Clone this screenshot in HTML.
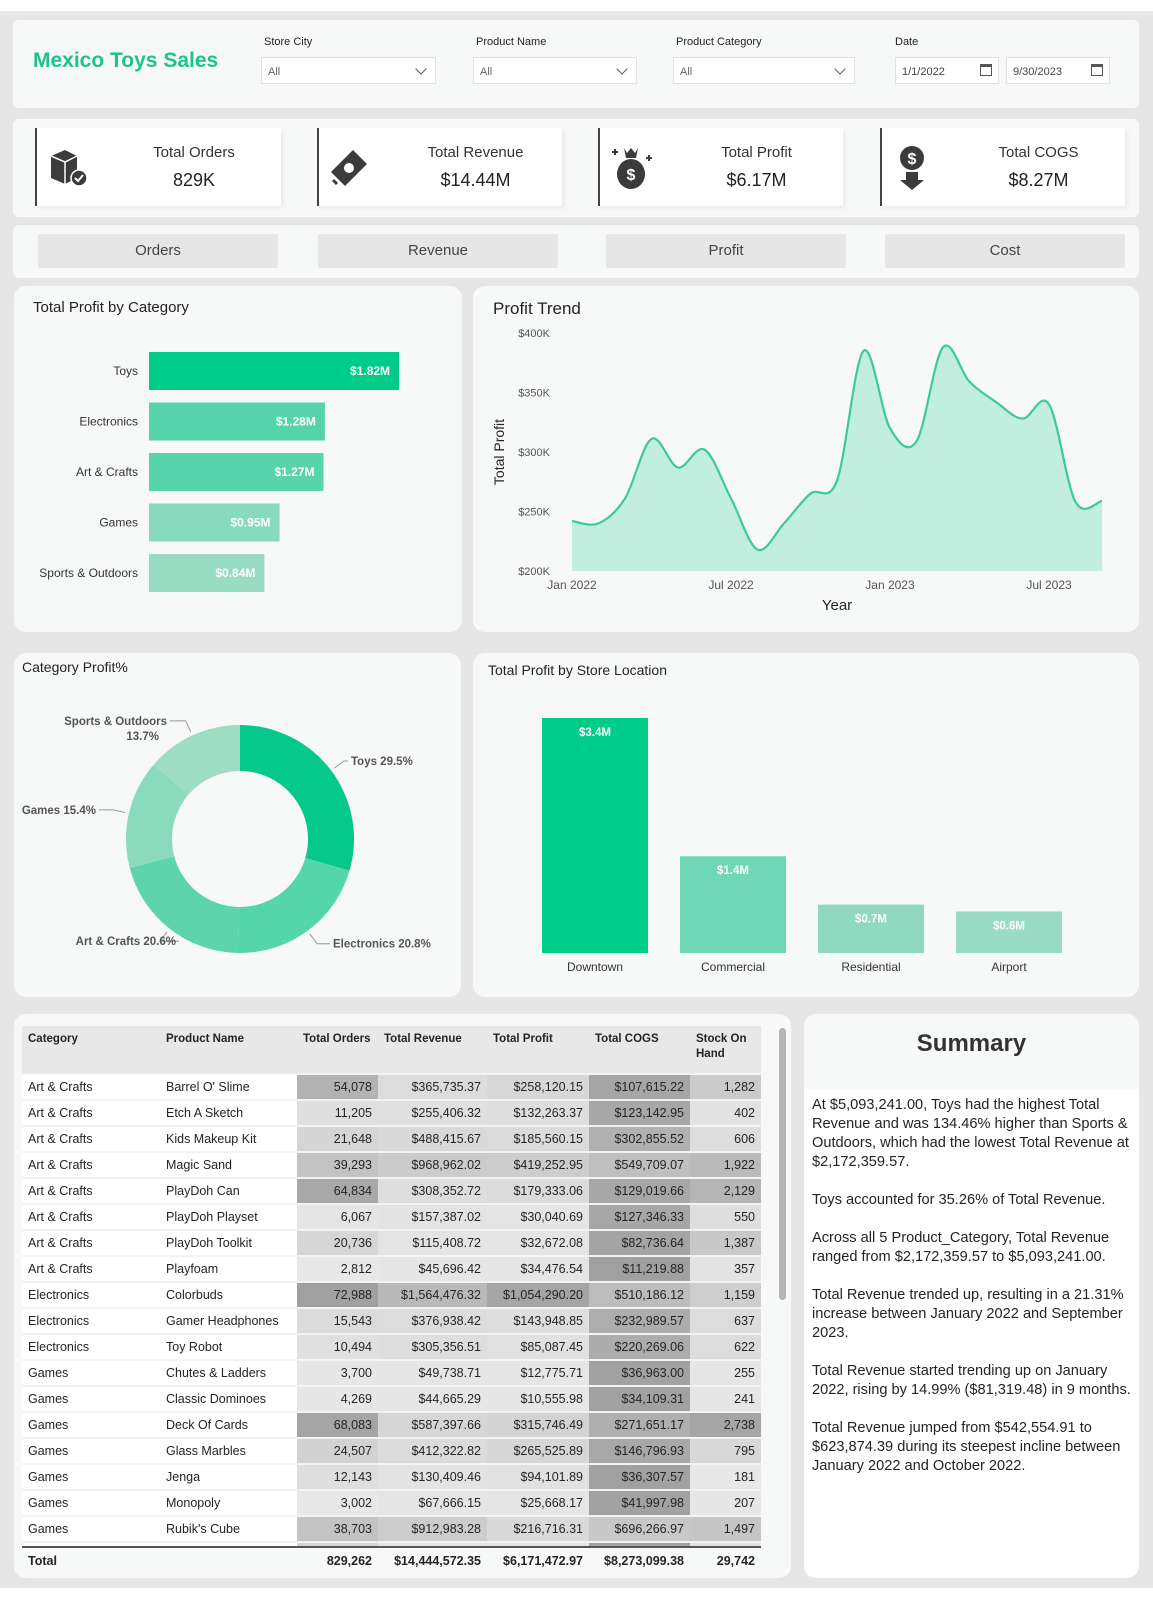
<!DOCTYPE html>
<html><head><meta charset="utf-8">
<style>
*{box-sizing:border-box;margin:0;padding:0}
body{width:1153px;height:1600px;background:#fff;font-family:"Liberation Sans",sans-serif;color:#252423;position:relative;overflow:hidden}
.abs{position:absolute}
.panel{position:absolute;background:#f7f8f8;border-radius:6px}
.rp{border-radius:12px}
.lbl{position:absolute;font-size:11px;color:#252423}
.dd{position:absolute;background:#fff;border:1px solid #e1e1e1;height:27px;font-size:11px;color:#666;padding:8px 6px}
.dd .chev{position:absolute;right:10px;top:7px;width:8px;height:8px;border-right:1.3px solid #555;border-bottom:1.3px solid #555;transform:rotate(45deg)}
.card{position:absolute;background:#fff;border-left:2px solid #444;top:128px;height:78px;box-shadow:2px 2px 4px rgba(0,0,0,.06)}
.card .t{position:absolute;left:70px;right:0;top:16px;text-align:center;font-size:15px;color:#333}
.card .v{position:absolute;left:70px;right:0;top:42px;text-align:center;font-size:18px;color:#222}
.card svg{position:absolute;left:10px;top:16px}
.btn{position:absolute;top:234px;height:34px;background:#e6e6e6;border-radius:2px;font-size:15px;color:#444;text-align:center;line-height:34px}
table{border-collapse:collapse;position:absolute;left:22px;top:1026px;font-size:12.5px;table-layout:fixed}
td,th{height:26px;padding:0 6px;white-space:nowrap;border-bottom:2px solid #f3f3f3}
th{background:#e8e8e8;font-size:11.5px;font-weight:bold;text-align:left;vertical-align:top;padding-top:6px;height:48px;line-height:15px;white-space:normal}
td.n{text-align:right}
td.w{background:#fff}
</style></head><body>
<div class="abs" style="left:0;top:11px;width:1153px;height:1577px;background:#e6e6e6"></div>

<!-- header -->
<div class="panel" style="left:13px;top:20px;width:1126px;height:88px">
  <div class="abs" style="left:20px;top:29px;font-size:21px;font-weight:bold;color:#1dc48a">Mexico Toys Sales</div>
</div>
<div class="lbl" style="left:264px;top:36px">Store City</div>
<div class="dd" style="left:261px;top:57px;width:175px">All<span class="chev"></span></div>
<div class="lbl" style="left:476px;top:36px">Product Name</div>
<div class="dd" style="left:473px;top:57px;width:164px">All<span class="chev"></span></div>
<div class="lbl" style="left:676px;top:36px">Product Category</div>
<div class="dd" style="left:673px;top:57px;width:182px">All<span class="chev"></span></div>
<div class="lbl" style="left:895px;top:36px">Date</div>
<div class="dd" style="left:895px;top:57px;width:104px;color:#444">1/1/2022<span class="abs" style="right:6px;top:6px;width:12px;height:12px;border:1.5px solid #555;border-top-width:3px"></span></div>
<div class="dd" style="left:1006px;top:57px;width:104px;color:#444">9/30/2023<span class="abs" style="right:6px;top:6px;width:12px;height:12px;border:1.5px solid #555;border-top-width:3px"></span></div>

<!-- KPIs -->
<div class="panel" style="left:13px;top:119px;width:1126px;height:98px"></div>
<div class="card" style="left:35px;width:246px">
  <svg width="44" height="44" viewBox="0 0 44 44"><path d="M4 12 L18 6 L30 12 L30 34 L18 40 L4 34Z" fill="#3b3b3b"/><path d="M4 12 L18 18 L30 12" stroke="#fff" stroke-width="1.5" fill="none"/><path d="M18 18 V40" stroke="#fff" stroke-width="1.5"/><circle cx="32" cy="34" r="8" fill="#3b3b3b" stroke="#fff" stroke-width="1.5"/><path d="M28 34 l3 3 l5 -6" stroke="#fff" stroke-width="2" fill="none"/></svg>
  <div class="t">Total Orders</div>
  <div class="v">829K</div>
</div>
<div class="card" style="left:317px;width:245px">
  <svg width="44" height="44" viewBox="0 0 44 44"><path d="M2 28 L24 6 L38 20 L16 42Z" fill="#3b3b3b"/><circle cx="20" cy="24" r="5" fill="#fff"/><path d="M4 36 L8 40" stroke="#3b3b3b" stroke-width="3"/></svg>
  <div class="t">Total Revenue</div>
  <div class="v">$14.44M</div>
</div>
<div class="card" style="left:598px;width:245px">
  <svg width="44" height="48" viewBox="0 0 44 48"><path d="M14 4 l3 5 l4 -5 l4 5 l3 -5 l-2 10 h-10z" fill="#3b3b3b"/><ellipse cx="21" cy="30" rx="14" ry="15" fill="#3b3b3b"/><text x="21" y="36" font-size="16" font-weight="bold" fill="#fff" text-anchor="middle" font-family="Liberation Sans">$</text><path d="M2 8 h6 M5 5 v6 M36 14 h6 M39 11 v6" stroke="#3b3b3b" stroke-width="2"/></svg>
  <div class="t">Total Profit</div>
  <div class="v">$6.17M</div>
</div>
<div class="card" style="left:880px;width:245px">
  <svg width="44" height="48" viewBox="0 0 44 48"><circle cx="20" cy="14" r="12" fill="#3b3b3b"/><text x="20" y="20" font-size="16" font-weight="bold" fill="#fff" text-anchor="middle" font-family="Liberation Sans">$</text><path d="M14 28 h12 v8 h6 l-12 10 l-12 -10 h6z" fill="#3b3b3b"/></svg>
  <div class="t">Total COGS</div>
  <div class="v">$8.27M</div>
</div>

<!-- buttons -->
<div class="panel" style="left:13px;top:225px;width:1126px;height:53px"></div>
<div class="btn" style="left:38px;width:240px">Orders</div>
<div class="btn" style="left:318px;width:240px">Revenue</div>
<div class="btn" style="left:606px;width:240px">Profit</div>
<div class="btn" style="left:885px;width:240px">Cost</div>

<!-- chart panels -->
<div class="panel rp" style="left:14px;top:286px;width:448px;height:346px"></div>
<div class="panel rp" style="left:473px;top:286px;width:666px;height:346px"></div>
<div class="panel rp" style="left:14px;top:653px;width:447px;height:344px"></div>
<div class="panel rp" style="left:473px;top:653px;width:666px;height:344px"></div>

<svg id="charts" class="abs" style="left:0;top:0" width="1153" height="1600" viewBox="0 0 1153 1600" font-family="Liberation Sans, sans-serif">
  <text x="33" y="312" font-size="15" fill="#252423">Total Profit by Category</text>
  <g id="catbars"></g>
  <text x="493" y="314" font-size="17" fill="#252423">Profit Trend</text>
  <g id="trend"></g>
  <text x="504" y="452" font-size="14" fill="#252423" transform="rotate(-90 504 452)" text-anchor="middle">Total Profit</text>
  <text x="837" y="610" font-size="15" fill="#252423" text-anchor="middle">Year</text>
  <text x="22" y="672" font-size="14" fill="#252423">Category Profit%</text>
  <g id="donut"></g>
  <text x="488" y="675" font-size="14" fill="#252423">Total Profit by Store Location</text>
  <g id="store"></g>
</svg>

<!-- table -->
<div class="panel rp" style="left:14px;top:1014px;width:777px;height:564px;background:#f7f8f8"></div>
<div class="abs" id="tblwrap" style="left:0;top:0;width:800px;height:1546px;overflow:hidden"></div>
<div class="abs" style="left:779px;top:1028px;width:7px;height:272px;background:#b4b4b4;border-radius:4px"></div>
<div class="abs" style="left:22px;top:1546px;width:739px;height:2px;background:#555"></div>
<div class="abs" id="totalrow" style="left:22px;top:1552px;width:739px;height:20px;font-size:12.5px;font-weight:bold"></div>

<!-- summary -->
<div class="panel rp" style="left:804px;top:1014px;width:335px;height:564px;background:#fff;overflow:hidden">
  <div class="abs" style="left:0;top:0;width:335px;height:75px;background:#f7f8f8"></div>
  <div class="abs" style="left:0;top:16px;width:335px;text-align:center;font-size:24px;font-weight:bold;color:#333">Summary</div>
  <div class="abs" style="left:8px;top:82px;width:326px;font-size:14.6px;line-height:19px;color:#252423">
    <p style="margin-bottom:19px">At $5,093,241.00, Toys had the highest Total Revenue and was 134.46% higher than Sports &amp; Outdoors, which had the lowest Total Revenue at $2,172,359.57.</p>
    <p style="margin-bottom:19px">Toys accounted for 35.26% of Total Revenue.</p>
    <p style="margin-bottom:19px">Across all 5 Product_Category, Total Revenue ranged from $2,172,359.57 to $5,093,241.00.</p>
    <p style="margin-bottom:19px">Total Revenue trended up, resulting in a 21.31% increase between January 2022 and September 2023.</p>
    <p style="margin-bottom:19px">Total Revenue started trending up on January 2022, rising by 14.99% ($81,319.48) in 9 months.</p>
    <p>Total Revenue jumped from $542,554.91 to $623,874.39 during its steepest incline between January 2022 and October 2022.</p>
  </div>
</div>

<script>
const NS="http://www.w3.org/2000/svg";
function mk(tag,attrs,parent){const e=document.createElementNS(NS,tag);for(const k in attrs)e.setAttribute(k,attrs[k]);parent.appendChild(e);return e;}

// ---- Profit by category (horizontal bars)
const catNames=["Toys","Electronics","Art & Crafts","Games","Sports & Outdoors"];
const catProfit=[1.82,1.28,1.27,0.95,0.84];
const catColors=["#00cc8a","#55d4ab","#58d4ac","#88dabf","#98dcc4"];
(function(){
  const g=document.getElementById("catbars");
  const x0=149,pxPerM=137.4,y0=352,pitch=50.5,h=38;
  const xs=v=>v*pxPerM;
  catNames.forEach((c,i)=>{
    const y=y0+i*pitch;
    const r=mk("rect",{x:x0,y:y,width:xs(catProfit[i]),height:h,fill:catColors[i]},g);
    
    
    const l=mk("text",{x:138,y:y+h/2+4,"font-size":12,fill:"#333","text-anchor":"end"},g);l.textContent=c;
    
    
    const v=mk("text",{x:x0+xs(catProfit[i])-9,y:y+h/2+4,"font-size":12,"font-weight":"bold",fill:"#fff","text-anchor":"end"},g);v.textContent="$"+catProfit[i].toFixed(2)+"M";
    
    
  });
})();

// ---- Profit trend (area)
const trendTicks=["Jan 2022","Jul 2022","Jan 2023","Jul 2023"];
const trendTickIdx=[0,6,12,18];
const yTicks=[200,250,300,350,400];
const profitK=[242,240,261,311,287,302,261,218,240,265,276,385,320,309,388,359,342,328,340,258,259];
(function(){
  const g=document.getElementById("trend");
  const X=i=>572+i*26.5, Y=v=>571-(v-200)*(238/200);
  yTicks.forEach(t=>{const e=mk("text",{x:550,y:Y(t)+4,"font-size":11,fill:"#555","text-anchor":"end"},g);e.textContent="$"+t+"K";
    
    });
  trendTicks.forEach((t,k)=>{const e=mk("text",{x:X(trendTickIdx[k]),y:589,"font-size":12,fill:"#555","text-anchor":"middle"},g);e.textContent=t;
    
    });
  const P=profitK.map((v,i)=>[X(i),Y(v)]);
  let d="M"+P[0][0]+","+P[0][1];
  for(let i=0;i<P.length-1;i++){
    const p0=P[Math.max(i-1,0)],p1=P[i],p2=P[i+1],p3=P[Math.min(i+2,P.length-1)];
    const c1=[p1[0]+(p2[0]-p0[0])/6,p1[1]+(p2[1]-p0[1])/6],c2=[p2[0]-(p3[0]-p1[0])/6,p2[1]-(p3[1]-p1[1])/6];
    d+=" C"+c1+" "+c2+" "+p2;
  }
  const a=mk("path",{d:d+" L"+P[P.length-1][0]+","+Y(200)+" L"+P[0][0]+","+Y(200)+"Z",fill:"#c2eee0"},g);
  
  
  const l=mk("path",{d:d,fill:"none",stroke:"#3ec99a","stroke-width":2.2},g);
  
  
})();

// ---- Donut
const donutNames=["Toys","Electronics","Art & Crafts","Games","Sports & Outdoors"];
const donutPct=[29.5,20.8,20.6,15.4,13.7];
const donutColors=["#05c98a","#55d5aa","#5dd4ab","#8adbbe","#9edcc4"];
(function(){
  const g=document.getElementById("donut");
  const cx=240,cy=839,R=114,r=68,tot=donutPct.reduce((a,b)=>a+b,0);
  let a0=-Math.PI/2;
  const pt=(rad,a)=>[cx+rad*Math.cos(a),cy+rad*Math.sin(a)];
  const lab=[[351,766,"start","Toys 29.5%"],[333,947,"start","Electronics 20.8%"],[176,966,"end","Art & Crafts 20.6%"],[96,815,"end","Games 15.4%"],[167,720,"end","Sports & Outdoors"]];
  donutPct.forEach((p,i)=>{
    const a1=a0+p/tot*2*Math.PI,lg=(a1-a0)>Math.PI?1:0;
    const A=pt(R,a0),B=pt(R,a1),C=pt(r,a1),D=pt(r,a0);
    const s=mk("path",{d:`M${A} A${R},${R} 0 ${lg} 1 ${B} L${C} A${r},${r} 0 ${lg} 0 ${D}Z`,fill:donutColors[i]},g);
    
    
    const am=(a0+a1)/2,E=pt(R+4,am),F=pt(R+16,am);
    const L=lab[i];
    const ln=mk("polyline",{points:`${E} ${F} ${L[2]=="start"?L[0]-3:L[0]+3},${F[1]}`,fill:"none",stroke:"#999","stroke-width":1},g);
    
    
    const t=mk("text",{x:L[0],y:F[1]+4,"font-size":11.5,"font-weight":"bold",fill:"#555","text-anchor":L[2]},g);
    t.textContent=i==4?donutNames[i]:donutNames[i]+" "+donutPct[i].toFixed(1)+"%";
    
    
    if(i==4){const t2=mk("text",{x:L[0]-8,y:F[1]+19,"font-size":11.5,"font-weight":"bold",fill:"#555","text-anchor":"end"},g);t2.textContent=donutPct[i].toFixed(1)+"%";
      
      }
    a0=a1;
  });
})();

// ---- Store location bars
const storeNames=["Downtown","Commercial","Residential","Airport"];
const storeProfit=[3.4,1.4,0.7,0.6];
const storeColors=["#00cc8a","#6fd7b5","#8ed9bf","#99dcc5"];
(function(){
  const g=document.getElementById("store");
  const base=953,pxPerM=235/3.4,x0=542,pitch=138,w=106;
  storeNames.forEach((n,i)=>{
    const h=storeProfit[i]*pxPerM,x=x0+i*pitch;
    const b=mk("rect",{x:x,y:base-h,width:w,height:h,fill:storeColors[i]},g);
    
    
    const v=mk("text",{x:x+w/2,y:base-h+18,"font-size":11.5,"font-weight":"bold",fill:"#fff","text-anchor":"middle"},g);v.textContent="$"+storeProfit[i].toFixed(1)+"M";
    
    
    const l=mk("text",{x:x+w/2,y:971,"font-size":12,fill:"#333","text-anchor":"middle"},g);l.textContent=n;
    
    
  });
})();

// ---- Table
const tCat=["Art & Crafts","Art & Crafts","Art & Crafts","Art & Crafts","Art & Crafts","Art & Crafts","Art & Crafts","Art & Crafts","Electronics","Electronics","Electronics","Games","Games","Games","Games","Games","Games","Games","Games"];
const tProd=["Barrel O' Slime","Etch A Sketch","Kids Makeup Kit","Magic Sand","PlayDoh Can","PlayDoh Playset","PlayDoh Toolkit","Playfoam","Colorbuds","Gamer Headphones","Toy Robot","Chutes & Ladders","Classic Dominoes","Deck Of Cards","Glass Marbles","Jenga","Monopoly","Rubik's Cube","Splash Balls"];
const tOrders=[54078,11205,21648,39293,64834,6067,20736,2812,72988,15543,10494,3700,4269,68083,24507,12143,3002,38703,20000];
const tRevenue=[365735.37,255406.32,488415.67,968962.02,308352.72,157387.02,115408.72,45696.42,1564476.32,376938.42,305356.51,49738.71,44665.29,587397.66,412322.82,130409.46,67666.15,912983.28,100000];
const tProfit=[258120.15,132263.37,185560.15,419252.95,179333.06,30040.69,32672.08,34476.54,1054290.20,143948.85,85087.45,12775.71,10555.98,315746.49,265525.89,94101.89,25668.17,216716.31,50000];
const tCogs=[107615.22,123142.95,302855.52,549709.07,129019.66,127346.33,82736.64,11219.88,510186.12,232989.57,220269.06,36963.00,34109.31,271651.17,146796.93,36307.57,41997.98,696266.97,50000];
const tStock=[1282,402,606,1922,2129,550,1387,357,1159,637,622,255,241,2738,795,181,207,1497,400];
const totals=["829,262","$14,444,572.35","$6,171,472.97","$8,273,099.38","29,742"];
(function(){
  const fmtI=v=>v.toLocaleString("en-US");
  const fmtM=v=>"$"+v.toLocaleString("en-US",{minimumFractionDigits:2,maximumFractionDigits:2});
  const shade=(v,arr,lo,hi,rev)=>{const mn=Math.min(...arr),mx=Math.max(...arr);let f=(v-mn)/(mx-mn);if(rev)f=1-f;const c=Math.round(lo-(lo-hi)*f);return `rgb(${c},${c},${c})`;};
  const cols=[[tOrders,fmtI,232,160,false],[tRevenue,fmtM,230,185,false],[tProfit,fmtM,230,165,false],[tCogs,fmtM,200,160,true],[tStock,fmtI,232,165,false]];
  const t=document.createElement("table");
  
  
  const widths=[138,137,81,109,102,101,71];
  const cg=document.createElement("colgroup");widths.forEach(w=>{const c=document.createElement("col");c.style.width=w+"px";cg.appendChild(c);});t.appendChild(cg);
  const hr=document.createElement("tr");
  ["Category","Product Name","Total Orders","Total Revenue","Total Profit","Total COGS","Stock On Hand"].forEach(h=>{const th=document.createElement("th");th.textContent=h;
    
    
    hr.appendChild(th);});
  t.appendChild(hr);
  tCat.forEach((c,i)=>{
    const tr=document.createElement("tr");
    
    
    [c,tProd[i]].forEach(s=>{const td=document.createElement("td");td.className="w";td.textContent=s;
      
      
      tr.appendChild(td);});
    cols.forEach(([arr,f,lo,hi,rev])=>{const td=document.createElement("td");td.className="n";td.textContent=f(arr[i]);td.style.background=shade(arr[i],arr,lo,hi,rev);
      
      
      tr.appendChild(td);});
    t.appendChild(tr);
  });
  document.getElementById("tblwrap").appendChild(t);
  const tot=document.getElementById("totalrow");
  const wd=[138,137,81,109,102,101,71];
  const lefts=[0,138,275,356,465,567,668];
  const vals=["Total",""].concat(totals);
  vals.forEach((v,k)=>{const d=document.createElement("div");d.className="abs";d.textContent=v;
    
    
    d.style.left=(k==0?6:lefts[k])+"px";d.style.width=wd[k]-6+"px";d.style.top="2px";d.style.textAlign=k<2?"left":"right";tot.appendChild(d);});
})();
</script>
</body></html>
